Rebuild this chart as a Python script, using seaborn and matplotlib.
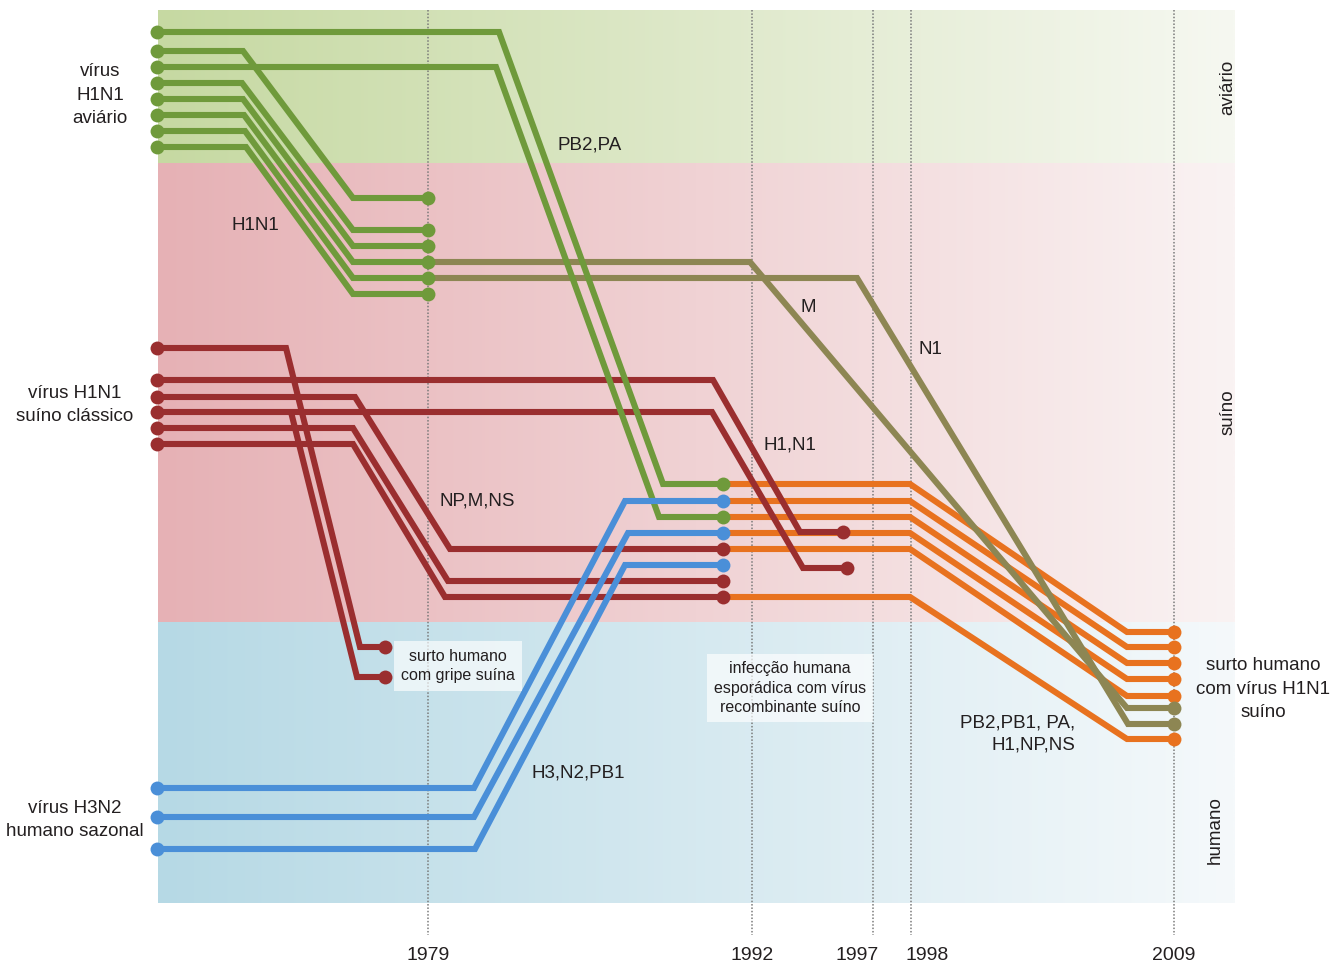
import numpy as np
import pandas as pd
import matplotlib
matplotlib.use("Agg")
import matplotlib.pyplot as plt
from matplotlib.colors import to_rgb
import seaborn as sns

# host bands: name, top, bottom, colour at left edge -> colour at right edge
band_names = ["aviário", "suíno", "humano"]
band_top = [10, 163, 622]
band_bottom = [163, 622, 903]
band_left = ["#c6d9a2", "#e6b1b5", "#b6d9e5"]
band_right = ["#f6f8f1", "#faf3f3", "#f5f9fb"]
band_x0, band_x1 = 158, 1235

years = ["1979", "1992", "1997", "1998", "2009"]
year_x = [428, 752, 873, 911, 1174]
year_label_x = [428, 752, 857, 927, 1174]

# segment lineages as waypoints (x, y) in the figure's own grid
green_paths = [
    [(157, 32), (499, 32), (663, 484), (723, 484)],
    [(157, 67), (496, 67), (659, 517), (723, 517)],
    [(157, 51), (243, 51), (353, 198), (428, 198)],
    [(157, 83), (242, 83), (353, 230), (428, 230)],
    [(157, 99), (243, 99), (353, 246), (428, 246)],
    [(157, 115), (244, 115), (353, 262), (428, 262)],
    [(157, 131), (245, 131), (353, 278), (428, 278)],
    [(157, 147), (246, 147), (353, 294), (428, 294)],
]
olive_paths = [
    [(428, 262), (750, 262), (1127, 708), (1174, 708)],
    [(428, 278), (857, 278), (1128, 724), (1174, 724)],
]
red_paths = [
    [(157, 348), (286, 348), (360, 647), (385, 647)],
    [(291, 412), (357, 677), (385, 677)],
    [(157, 380), (713, 380), (800, 532), (843, 532)],
    [(157, 412), (712, 412), (803, 568), (847, 568)],
    [(157, 397), (355, 397), (450, 549), (723, 549)],
    [(157, 428), (353, 428), (448, 581), (723, 581)],
    [(157, 444), (353, 444), (445, 597), (723, 597)],
]
red_start_dot = [True, False, True, True, True, True, True]
blue_paths = [
    [(157, 788), (474, 788), (625, 501), (723, 501)],
    [(157, 817), (474, 817), (628, 533), (723, 533)],
    [(157, 849), (475, 849), (625, 565), (723, 565)],
]
orange_paths = [
    [(723, 484), (910, 484), (1127, 632), (1174, 632)],
    [(723, 501), (910, 501), (1127, 647), (1174, 647)],
    [(723, 517), (910, 517), (1127, 663), (1174, 663)],
    [(723, 533), (910, 533), (1127, 679), (1174, 679)],
    [(723, 549), (910, 549), (1127, 696), (1174, 696)],
    [(723, 597), (910, 597), (1127, 739), (1174, 739)],
]

GREEN = "#6f9a3b"
OLIVE = "#8d8653"
RED = "#9a2e2f"
BLUE = "#4a8fd8"
ORANGE = "#e8721f"
TXT = "#231f20"


def to_frame(paths):
    rows = []
    for i, p in enumerate(paths):
        for k, (x, y) in enumerate(p):
            rows.append({"path": i, "step": k, "x": x, "y": y})
    return pd.DataFrame(rows)


sns.set_theme(style="white")
plt.rcParams["font.family"] = ["Liberation Sans", "DejaVu Sans"]

fig = plt.figure(figsize=(13.38, 9.67), dpi=100)
ax = fig.add_axes([0, 0, 1, 1])

# gradient bands
for top, bot, c0, c1 in zip(band_top, band_bottom, band_left, band_right):
    t = np.linspace(0, 1, 256)[None, :, None]
    grad = np.array(to_rgb(c0))[None, None, :] * (1 - t) + np.array(to_rgb(c1))[None, None, :] * t
    ax.imshow(grad, extent=(band_x0, band_x1, bot, top), aspect="auto", zorder=0, interpolation="bilinear")

ax.vlines(year_x, 10, 935, colors="#7a7a7a", linestyles=(0, (1, 1.2)), linewidth=1.1, zorder=1)

lw = 4.4
groups = [
    (orange_paths, ORANGE, 3),
    (red_paths, RED, 4),
    (olive_paths, OLIVE, 5),
    (green_paths, GREEN, 6),
    (blue_paths, BLUE, 7),
]
for paths, col, z in groups:
    df = to_frame(paths)
    sns.lineplot(data=df, x="x", y="y", units="path", estimator=None, sort=False,
                 color=col, linewidth=lw, zorder=z, ax=ax, legend=False,
                 solid_joinstyle="miter")

# end dots
dot_sets = [
    ([p[0] for p in green_paths] + [p[-1] for p in green_paths], GREEN),
    ([p[0] for p, s in zip(red_paths, red_start_dot) if s] + [p[-1] for p in red_paths], RED),
    ([p[0] for p in blue_paths] + [p[-1] for p in blue_paths], BLUE),
    ([p[-1] for p in orange_paths], ORANGE),
    ([p[-1] for p in olive_paths], OLIVE),
]
for pts, col in dot_sets:
    sns.scatterplot(x=[p[0] for p in pts], y=[p[1] for p in pts], color=col, s=100,
                    linewidth=0, zorder=8, ax=ax, legend=False)

ax.set_xlim(0, 1338)
ax.set_ylim(967, 0)
ax.axis("off")

fs = 13.5
ls = 1.5
ax.text(100, 95, "vírus\nH1N1\naviário", ha="center", va="center", fontsize=fs, color=TXT, linespacing=ls)
ax.text(75, 405, "vírus H1N1\nsuíno clássico", ha="center", va="center", fontsize=fs, color=TXT, linespacing=ls)
ax.text(75, 820, "vírus H3N2\nhumano sazonal", ha="center", va="center", fontsize=fs, color=TXT, linespacing=ls)

for s, x, y in [("H1N1", 255, 225), ("PB2,PA", 590, 145), ("M", 808, 308), ("N1", 930, 350),
                ("H1,N1", 790, 445), ("NP,M,NS", 477, 501), ("H3,N2,PB1", 578, 773)]:
    ax.text(x, y, s, ha="center", va="center", fontsize=fs, color=TXT, zorder=10)

ax.text(1075, 734, "PB2,PB1, PA,\nH1,NP,NS", ha="right", va="center", multialignment="right",
        fontsize=fs, color=TXT, linespacing=1.45, zorder=10)
ax.text(1263, 689, "surto humano\ncom vírus H1N1\nsuíno", ha="center", va="center",
        fontsize=fs, color=TXT, linespacing=ls, zorder=10)

box = dict(boxstyle="square,pad=0.45", facecolor="white", edgecolor="none", alpha=0.65)
ax.text(458, 666, "surto humano\ncom gripe suína", ha="center", va="center", fontsize=11.5,
        color=TXT, linespacing=1.4, bbox=box, zorder=9)
ax.text(790, 688, "infecção humana\nesporádica com vírus\nrecombinante suíno", ha="center", va="center",
        fontsize=11.5, color=TXT, linespacing=1.4, bbox=box, zorder=9)

for s, y in zip(band_names, [87, 412, 830]):
    x = 1228 if s != "humano" else 1215
    ax.text(x, y, s, rotation=90, ha="center", va="center", fontsize=fs, color=TXT)

for s, x in zip(years, year_label_x):
    ax.text(x, 955, s, ha="center", va="center", fontsize=14, color=TXT)

fig.savefig("out.png", dpi=100, facecolor="white")
